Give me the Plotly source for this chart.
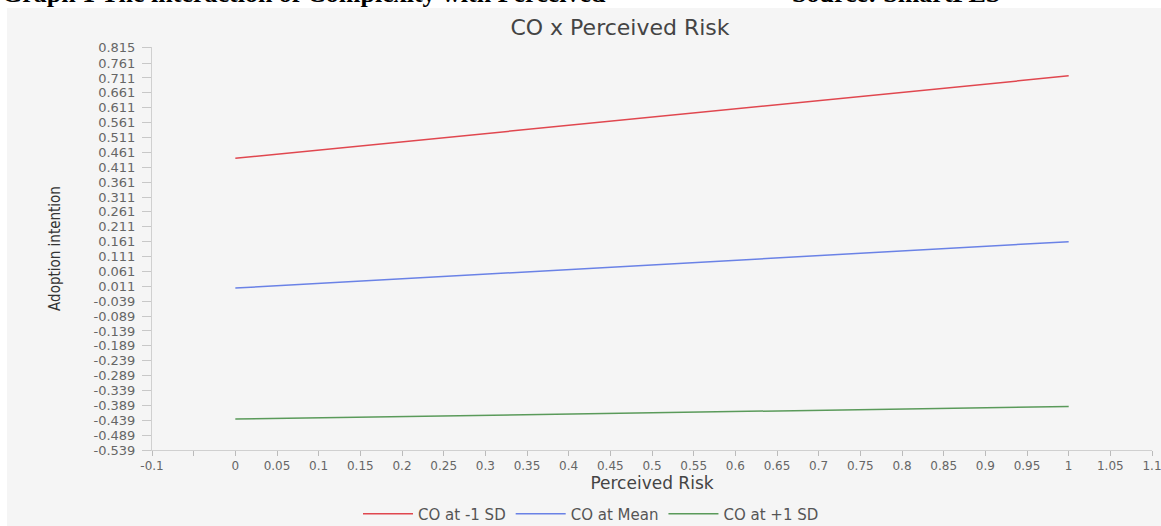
import plotly.graph_objects as go

# Data
x_vals = [0, 1]
series_names = ["CO at -1 SD", "CO at Mean", "CO at +1 SD"]
red_vals = [0.441, 0.718]
blue_vals = [0.005, 0.161]
green_vals = [-0.435, -0.393]
colors = ["#e0474f", "#6a82e6", "#5a9a5a"]

y_ticks = [0.815, 0.761, 0.711, 0.661, 0.611, 0.561, 0.511, 0.461, 0.411, 0.361,
           0.311, 0.261, 0.211, 0.161, 0.111, 0.061, 0.011, -0.039, -0.089, -0.139,
           -0.189, -0.239, -0.289, -0.339, -0.389, -0.439, -0.489, -0.539]
y_ticktext = ["0.815", "0.761", "0.711", "0.661", "0.611", "0.561", "0.511", "0.461",
              "0.411", "0.361", "0.311", "0.261", "0.211", "0.161", "0.111", "0.061",
              "0.011", "-0.039", "-0.089", "-0.139", "-0.189", "-0.239", "-0.289",
              "-0.339", "-0.389", "-0.439", "-0.489", "-0.539"]
x_ticks = [-0.1, -0.05, 0, 0.05, 0.1, 0.15, 0.2, 0.25, 0.3, 0.35, 0.4, 0.45, 0.5,
           0.55, 0.6, 0.65, 0.7, 0.75, 0.8, 0.85, 0.9, 0.95, 1, 1.05, 1.1]
x_ticktext = ["-0.1", "", "0", "0.05", "0.1", "0.15", "0.2", "0.25", "0.3", "0.35",
              "0.4", "0.45", "0.5", "0.55", "0.6", "0.65", "0.7", "0.75", "0.8", "0.85",
              "0.9", "0.95", "1", "1.05", "1.1"]

W, H = 1161, 526
ML, MR, MT, MB = 152, 9, 47, 76
PW, PH = W - ML - MR, H - MT - MB


def px2x(px):
    return (px - ML) / PW


def py2y(py):
    return (H - MB - py) / PH


SANS = "DejaVu Sans, sans-serif"

fig = go.Figure()
for name, vals, col in zip(series_names, [red_vals, blue_vals, green_vals], colors):
    fig.add_trace(go.Scatter(x=x_vals, y=vals, mode="lines", name=name,
                             line=dict(color=col, width=1.5)))

fig.update_layout(
    width=W, height=H,
    margin=dict(l=ML, r=MR, t=MT, b=MB, autoexpand=False),
    paper_bgcolor="#f5f5f5",
    plot_bgcolor="#f5f5f5",
    showlegend=True,
    legend=dict(orientation="h", xref="container", yref="container",
                x=591 / W, xanchor="center", y=1 - 514 / H, yanchor="middle",
                font=dict(family=SANS, size=15, color="#555555"),
                bgcolor="rgba(0,0,0,0)", itemwidth=50),
    title=dict(text="CO x Perceived Risk", x=px2x(620), xref="paper", xanchor="center",
               y=(H - 27) / H, yanchor="middle",
               font=dict(family=SANS, size=22, color="#444444")),
    xaxis=dict(range=[-0.1, 1.1], tickvals=x_ticks, ticktext=x_ticktext, showgrid=False,
               zeroline=False, showline=True, linecolor="#d0d0d0", linewidth=1,
               ticks="outside", ticklen=5, tickcolor="#bbbbbb", ticklabeloverflow="allow",
               tickfont=dict(family=SANS, size=12, color="#666666"), automargin=False,
               title=dict(text="Perceived Risk", standoff=3,
                          font=dict(family=SANS, size=17, color="#444444"))),
    yaxis=dict(range=[-0.539, 0.815], tickvals=y_ticks, ticktext=y_ticktext, showgrid=False,
               zeroline=False, showline=True, linecolor="#d0d0d0", linewidth=1,
               ticks="outside", ticklen=9, tickcolor="#c8c8c8", ticklabelstandoff=4,
               tickfont=dict(family=SANS, size=13, color="#666666"), automargin=False,
               title=dict(text="Adoption intention", standoff=29,
                          font=dict(family="Liberation Sans Narrow, DejaVu Sans Condensed, sans-serif",
                                    size=15, color="#333333"))),
    shapes=[
        dict(type="rect", xref="paper", yref="paper", x0=px2x(-5), x1=px2x(W + 5),
             y0=py2y(8), y1=py2y(-5), fillcolor="white", line=dict(width=0), layer="below"),
        dict(type="rect", xref="paper", yref="paper", x0=px2x(-5), x1=px2x(7),
             y0=py2y(H + 5), y1=py2y(-5), fillcolor="white", line=dict(width=0), layer="below"),
    ],
    annotations=[
        dict(text="<b>Graph 1 The interaction of Complexity with Perceived</b>", xref="paper", yref="paper",
             x=px2x(0), y=py2y(-6), xanchor="left", yanchor="middle", showarrow=False,
             font=dict(family="Liberation Serif, serif", size=26, color="black")),
        dict(text="<b>Source: SmartPLS</b>", xref="paper", yref="paper",
             x=px2x(790), y=py2y(-6), xanchor="left", yanchor="middle", showarrow=False,
             font=dict(family="Liberation Serif, serif", size=26, color="black")),
    ],
)

fig.write_html(
    "out.html",
    config={"displayModeBar": False},
    post_script="document.body.style.margin='0px';document.documentElement.style.overflow='hidden';document.body.style.overflow='hidden';",
)
